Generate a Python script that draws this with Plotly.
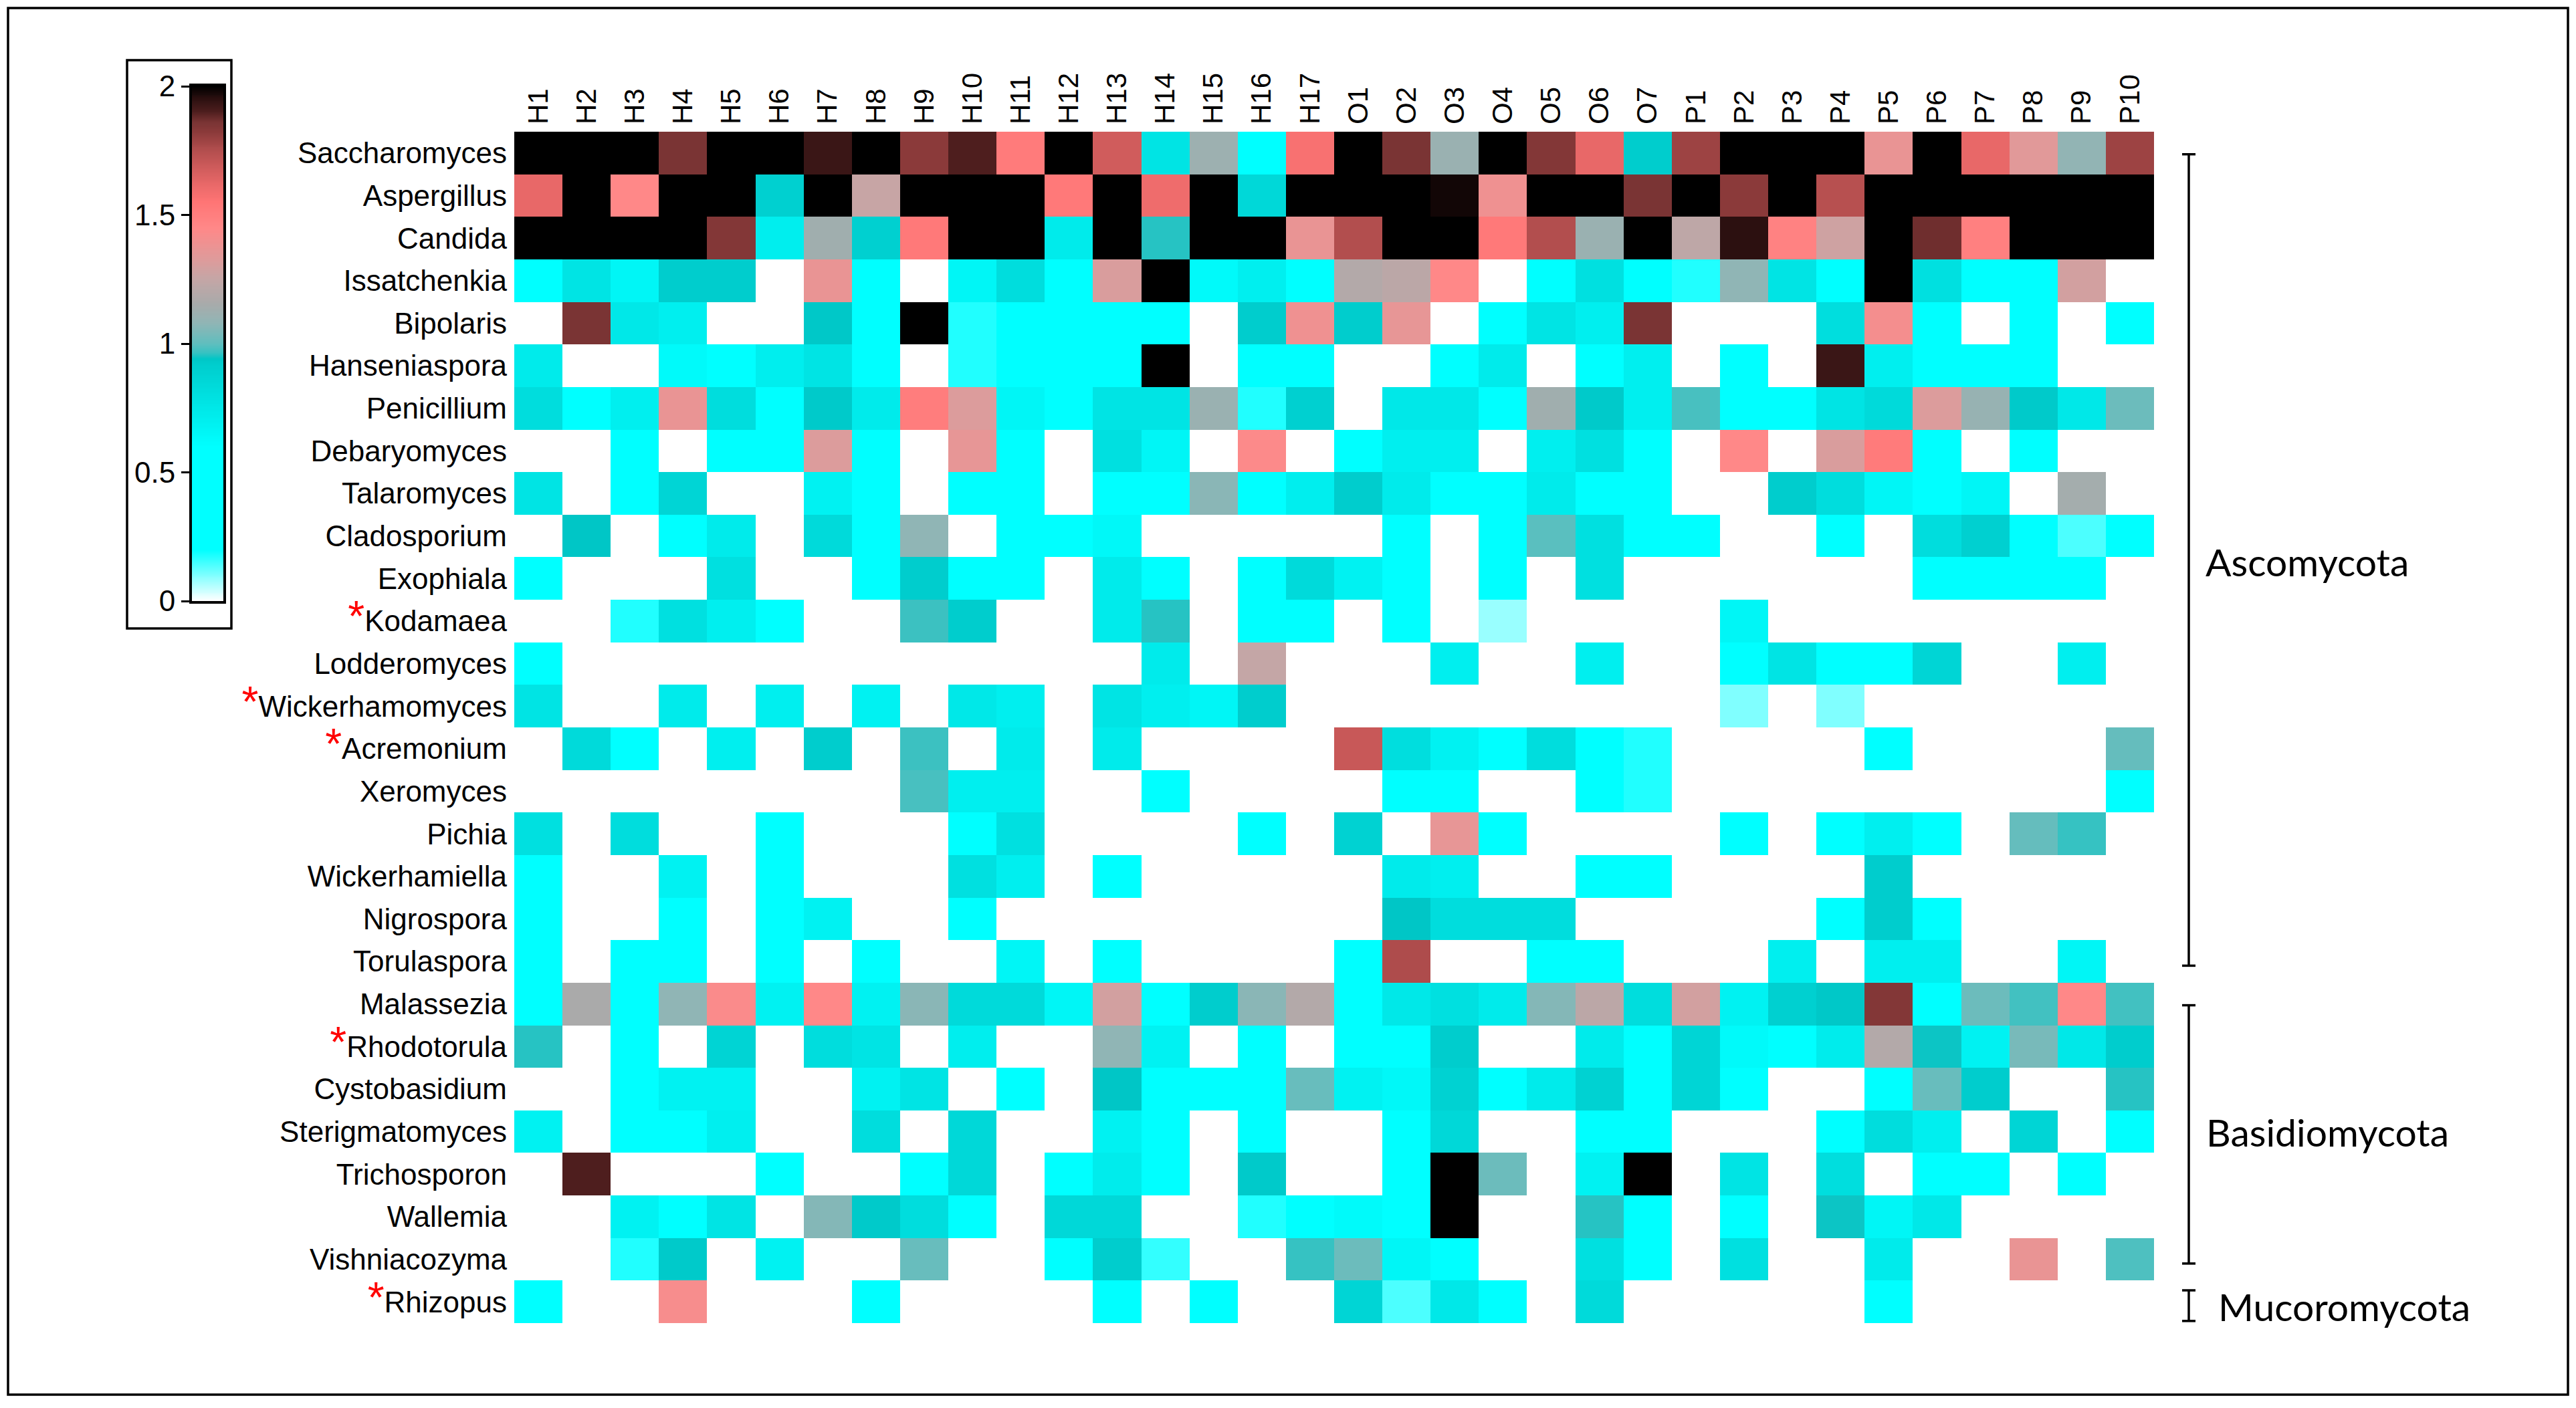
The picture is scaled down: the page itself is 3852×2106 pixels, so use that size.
import numpy as np
import plotly.graph_objects as go

# page is 3852x2106; the html body adds an 8px margin, so the figure is a bit smaller
PAGE_W, PAGE_H, BODY = 3852, 2106, 8
W, H = PAGE_W - 2 * BODY, PAGE_H - 2 * BODY
FONT = "Liberation Sans, Arial, sans-serif"
GROUP_FONT = "Lato, Open Sans, sans-serif"
N = None  # genus not detected in that sample

samples = ["H1", "H2", "H3", "H4", "H5", "H6", "H7", "H8", "H9", "H10", "H11", "H12",
           "H13", "H14", "H15", "H16", "H17", "O1", "O2", "O3", "O4", "O5", "O6", "O7",
           "P1", "P2", "P3", "P4", "P5", "P6", "P7", "P8", "P9", "P10"]

genera = ["Saccharomyces", "Aspergillus", "Candida", "Issatchenkia", "Bipolaris",
          "Hanseniaspora", "Penicillium", "Debaryomyces", "Talaromyces", "Cladosporium",
          "Exophiala", "Kodamaea", "Lodderomyces", "Wickerhamomyces", "Acremonium",
          "Xeromyces", "Pichia", "Wickerhamiella", "Nigrospora", "Torulaspora",
          "Malassezia", "Rhodotorula", "Cystobasidium", "Sterigmatomyces", "Trichosporon",
          "Wallemia", "Vishniacozyma", "Rhizopus"]
starred = ["Kodamaea", "Wickerhamomyces", "Acremonium", "Rhodotorula", "Rhizopus"]

# abundance score per genus, columns follow `samples`
saccharomyces = [2, 2, 2, 1.86, 2, 2, 1.93, 2, 1.82, 1.9, 1.52, 2, 1.68, 0.77, 1.12, 0.4, 1.57,
                 2, 1.86, 1.11, 2, 1.84, 1.62, 0.92, 1.79, 2, 2, 2, 1.37, 2, 1.62, 1.34, 1.085, 1.79]
aspergillus = [1.62, 2, 1.45, 2, 2, 0.9, 2, 1.26, 2, 2, 2, 1.53, 2, 1.6, 2, 0.85, 2,
               2, 2, 1.98, 1.39, 2, 2, 1.86, 2, 1.82, 2, 1.74, 2, 2, 2, 2, 2, 2]
candida = [2, 2, 2, 2, 1.84, 0.71, 1.13, 0.9, 1.53, 2, 2, 0.73, 2, 0.956, 2, 2, 1.37,
           1.75, 2, 2, 1.53, 1.75, 1.11, 2, 1.23, 1.95, 1.48, 1.28, 2, 1.87, 1.49, 2, 2, 2]
issatchenkia = [0.4, 0.77, 0.66, 0.92, 0.92, N, 1.37, 0.4, N, 0.66, 0.82, 0.4, 1.31, 2, 0.63, 0.7, 0.4,
                1.19, 1.22, 1.45, N, 0.4, 0.8, 0.4, 0.175, 1.08, 0.77, 0.4, 2, 0.8, 0.4, 0.4, 1.29, N]
bipolaris = [N, 1.86, 0.75, 0.7, N, N, 0.935, 0.4, 2, 0.175, 0.4, 0.4, 0.4, 0.4, N, 0.92, 1.39,
             0.92, 1.36, N, 0.4, 0.77, 0.7, 1.86, N, N, N, 0.81, 1.41, 0.4, N, 0.4, N, 0.4]
hanseniaspora = [0.73, N, N, 0.63, 0.4, 0.71, 0.77, 0.4, N, 0.175, 0.4, 0.4, 0.4, 2, N, 0.4, 0.4,
                 N, N, 0.4, 0.73, N, 0.4, 0.7, N, 0.4, N, 1.93, 0.7, 0.4, 0.4, 0.4, N, N]
penicillium = [0.82, 0.4, 0.7, 1.37, 0.82, 0.4, 0.93, 0.73, 1.51, 1.32, 0.66, 0.4, 0.77, 0.77, 1.11, 0.175, 0.9,
               N, 0.75, 0.75, 0.4, 1.13, 0.93, 0.7, 0.98, 0.4, 0.4, 0.77, 0.84, 1.32, 1.1, 0.93, 0.75, 1.02]
debaryomyces = [N, N, 0.4, N, 0.4, 0.4, 1.32, 0.4, N, 1.36, 0.4, N, 0.8, 0.66, N, 1.44, N,
                0.4, 0.7, 0.7, N, 0.7, 0.8, 0.4, N, 1.45, N, 1.31, 1.52, 0.4, N, 0.4, N, N]
talaromyces = [0.77, N, 0.4, 0.87, N, N, 0.68, 0.4, N, 0.4, 0.4, N, 0.4, 0.4, 1.07, 0.4, 0.71,
               0.92, 0.73, 0.4, 0.4, 0.73, 0.4, 0.4, N, N, 0.92, 0.82, 0.66, 0.4, 0.66, N, 1.14, N]
cladosporium = [N, 0.94, N, 0.4, 0.73, N, 0.84, 0.4, 1.08, N, 0.4, 0.4, 0.645, N, N, N, N,
                N, 0.4, N, 0.4, 0.995, 0.8, 0.4, 0.4, N, N, 0.4, N, 0.82, 0.9, 0.4, 0.14, 0.4]
exophiala = [0.4, N, N, N, 0.8, N, N, 0.4, 0.92, 0.4, 0.4, N, 0.73, 0.4, N, 0.4, 0.84,
             0.68, 0.4, N, 0.4, N, 0.8, N, N, N, N, N, N, 0.4, 0.4, 0.4, 0.4, N]
kodamaea = [N, N, 0.175, 0.8, 0.7, 0.4, N, N, 0.97, 0.92, N, N, 0.73, 0.956, N, 0.4, 0.4,
            N, 0.4, N, 0.08, N, N, N, N, 0.66, N, N, N, N, N, N, N, N]
lodderomyces = [0.4, N, N, N, N, N, N, N, N, N, N, N, N, 0.73, N, 1.25, N,
                N, N, 0.7, N, N, 0.7, N, N, 0.4, 0.77, 0.4, 0.4, 0.87, N, N, 0.7, N]
wickerhamomyces = [0.77, N, N, 0.73, N, 0.7, N, 0.68, N, 0.75, 0.7, N, 0.77, 0.7, 0.66, 0.92, N,
                   N, N, N, N, N, N, N, N, 0.1, N, 0.1, N, N, N, N, N, N]
acremonium = [N, 0.84, 0.4, N, 0.7, N, 0.92, N, 0.97, N, 0.73, N, 0.73, N, N, N, N,
              1.7, 0.81, 0.68, 0.4, 0.82, 0.4, 0.175, N, N, N, N, 0.4, N, N, N, N, 1.008]
xeromyces = [N, N, N, N, N, N, N, N, 0.98, 0.7, 0.7, N, N, 0.4, N, N, N,
             N, 0.4, 0.4, N, N, 0.4, 0.175, N, N, N, N, N, N, N, N, N, 0.4]
pichia = [0.8, N, 0.82, N, N, 0.4, N, N, N, 0.4, 0.8, N, N, N, N, 0.4, N,
          0.89, N, 1.36, 0.4, N, N, N, N, 0.4, N, 0.4, 0.7, 0.4, N, 1.008, 0.965, N]
wickerhamiella = [0.4, N, N, 0.68, N, 0.4, N, N, N, 0.8, 0.7, N, 0.4, N, N, N, N,
                  N, 0.73, 0.7, N, N, 0.4, 0.4, N, N, N, N, 0.92, N, N, N, N, N]
nigrospora = [0.4, N, N, 0.4, N, 0.4, 0.68, N, N, 0.4, N, N, N, N, N, N, N,
              N, 0.94, 0.82, 0.82, 0.82, N, N, N, N, N, 0.4, 0.92, 0.4, N, N, N, N]
torulaspora = [0.4, N, 0.4, 0.4, N, 0.4, N, 0.4, N, N, 0.66, N, 0.4, N, N, N, N,
               0.4, 1.76, N, N, 0.4, 0.4, N, N, N, 0.7, N, 0.7, 0.7, N, N, 0.66, N]
malassezia = [0.4, 1.16, 0.4, 1.08, 1.43, 0.68, 1.45, 0.68, 1.07, 0.84, 0.84, 0.66, 1.29, 0.4, 0.92, 1.07, 1.19,
              0.4, 0.75, 0.8, 0.73, 1.06, 1.22, 0.82, 1.29, 0.68, 0.9, 0.935, 1.84, 0.4, 1.02, 0.975, 1.45, 0.975]
rhodotorula = [0.956, N, 0.4, N, 0.875, N, 0.82, 0.77, N, 0.71, N, N, 1.08, 0.68, N, 0.4, N,
               0.4, 0.4, 0.92, N, N, 0.73, 0.4, 0.87, 0.63, 0.4, 0.72, 1.19, 0.945, 0.68, 1.04, 0.75, 0.92]
cystobasidium = [N, N, 0.4, 0.68, 0.68, N, N, 0.68, 0.77, N, 0.4, N, 0.94, 0.4, 0.4, 0.4, 1.013,
                 0.68, 0.645, 0.89, 0.4, 0.73, 0.89, 0.4, 0.87, 0.4, N, N, 0.4, 1.013, 0.92, N, N, 0.956]
sterigmatomyces = [0.68, N, 0.4, 0.4, 0.7, N, N, 0.82, N, 0.85, N, N, 0.68, 0.4, N, 0.4, N,
                   N, 0.4, 0.85, N, N, 0.4, 0.4, N, N, N, 0.4, 0.82, 0.7, N, 0.87, N, 0.4]
trichosporon = [N, 1.9, N, N, N, 0.4, N, N, 0.4, 0.85, N, 0.4, 0.72, 0.4, N, 0.93, N,
                N, 0.4, 2, 1.02, N, 0.68, 2, N, 0.77, N, 0.81, N, 0.4, 0.4, N, 0.4, N]
wallemia = [N, N, 0.68, 0.4, 0.77, N, 1.06, 0.93, 0.82, 0.4, N, 0.85, 0.85, N, N, 0.175, 0.4,
            0.63, 0.4, 2, N, N, 0.956, 0.4, N, 0.4, N, 0.945, 0.66, 0.75, N, N, N, N]
vishniacozyma = [N, N, 0.175, 0.93, N, 0.68, N, N, 1.013, N, N, 0.4, 0.92, 0.16, N, N, 0.965,
                 1.02, 0.66, 0.4, N, N, 0.8, 0.4, N, 0.8, N, N, 0.73, N, N, 1.37, N, 0.985]
rhizopus = [0.4, N, N, 1.42, N, N, N, 0.4, N, N, N, N, 0.4, N, 0.4, N, N,
            0.87, 0.14, 0.75, 0.4, N, 0.84, N, N, N, N, N, 0.4, N, N, N, N, N]

z = [saccharomyces, aspergillus, candida, issatchenkia, bipolaris, hanseniaspora, penicillium,
     debaryomyces, talaromyces, cladosporium, exophiala, kodamaea, lodderomyces, wickerhamomyces,
     acremonium, xeromyces, pichia, wickerhamiella, nigrospora, torulaspora, malassezia,
     rhodotorula, cystobasidium, sterigmatomyces, trichosporon, wallemia, vishniacozyma, rhizopus]

# phylum groups: (label, first row, last row)
phyla = [("Ascomycota", 0, 19), ("Basidiomycota", 20, 26), ("Mucoromycota", 27, 27)]

# white -> cyan -> teal -> grey -> salmon -> dark red -> black
scale_stops = [(0.0, "#FFFFFF"), (0.2, "#00FFFF"), (0.6, "#00FFFF"), (0.92, "#00CDCD"),
               (0.94, "#00C6C6"), (0.96, "#30C2C2"), (1.0, "#60BEBE"), (1.08, "#90B5B5"),
               (1.16, "#AAAAAA"), (1.25, "#C4A6A6"), (1.32, "#DC9C9C"), (1.45, "#FF8888"),
               (1.55, "#FF7575"), (1.62, "#E86868"), (1.7, "#C85858"), (1.76, "#AE4C4C"),
               (1.82, "#8B3A3A"), (1.86, "#7A3434"), (1.9, "#4E1E1E"), (1.95, "#2C1010"),
               (2.0, "#000000")]
colorscale = [[v / 2.0, c] for v, c in scale_stops]


def px_x(x):
    # page pixel -> paper fraction
    return (x - BODY) / W


def px_y(y):
    return 1 - (y - BODY) / H


row_labels = []
for g in genera:
    if g in starred:
        row_labels.append(f"<span style='color:red;font-size:64px'>*</span>{g}")
    else:
        row_labels.append(g)

fig = go.Figure()
fig.add_trace(go.Heatmap(
    z=z, x=list(range(len(samples))), y=list(range(len(genera))),
    zmin=0, zmax=2, colorscale=colorscale, showscale=False, hoverongaps=False,
    xaxis="x", yaxis="y",
))

# hand-built colour key so the labels can sit on the left of the bar
key_vals = np.linspace(0, 2, 401)
fig.add_trace(go.Heatmap(
    z=[[v] for v in key_vals], x=[0], y=key_vals, zmin=0, zmax=2,
    colorscale=colorscale, showscale=False, hoverinfo="skip",
    xaxis="x2", yaxis="y2",
))

shapes = [
    dict(type="rect", xref="paper", yref="paper", x0=px_x(12), x1=px_x(3840),
         y0=px_y(12), y1=px_y(2086), line=dict(color="black", width=3.5)),
    dict(type="rect", xref="paper", yref="paper", x0=px_x(190), x1=px_x(346),
         y0=px_y(90), y1=px_y(940), line=dict(color="black", width=3.5)),
]
annotations = []
BX = 3273
label_y = {"Ascomycota": 9.6, "Basidiomycota": 23.0, "Mucoromycota": 27.1}
label_x = {"Ascomycota": 3296, "Basidiomycota": 3297, "Mucoromycota": 3315}
for name, r0, r1 in phyla:
    if r0 == r1:
        y0, y1 = r0 - 0.27, r1 + 0.45
    else:
        y0, y1 = r0 + 0.03, r1 + 0.1
    shapes.append(dict(type="line", xref="paper", yref="y", x0=px_x(BX), x1=px_x(BX),
                       y0=y0, y1=y1, line=dict(color="black", width=3.5)))
    for yy in (y0, y1):
        shapes.append(dict(type="line", xref="paper", yref="y", x0=px_x(BX - 10),
                           x1=px_x(BX + 10), y0=yy, y1=yy, line=dict(color="black", width=3.5)))
    annotations.append(dict(text=name, xref="paper", yref="y", x=px_x(label_x[name]),
                            y=label_y[name], xanchor="left", yanchor="middle", showarrow=False,
                            font=dict(family=GROUP_FONT, size=57, color="black")))

fig.update_layout(
    width=W, height=H,
    margin=dict(l=0, r=0, t=0, b=0, pad=0, autoexpand=False),
    paper_bgcolor="white", plot_bgcolor="white",
    font=dict(family=FONT, color="black"),
    showlegend=False,
    shapes=shapes, annotations=annotations,
    xaxis=dict(domain=[px_x(769), px_x(3221)], range=[-0.5, len(samples) - 0.5],
               side="top", tickmode="array", tickvals=list(range(len(samples))),
               ticktext=samples, tickangle=-90, ticks="", ticklabelstandoff=10,
               showgrid=False, zeroline=False, showline=False, automargin=False,
               tickfont=dict(size=42, family=FONT, color="black"), anchor="y"),
    yaxis=dict(domain=[px_y(1979), px_y(197)], range=[len(genera) - 0.5, -0.5],
               tickmode="array", tickvals=list(range(len(genera))), ticktext=row_labels,
               ticks="", ticklabelstandoff=10, showgrid=False, zeroline=False, showline=False,
               automargin=False,
               tickfont=dict(size=44, family=FONT, color="black"), anchor="x"),
    xaxis2=dict(domain=[px_x(287), px_x(334)], range=[-0.5, 0.5], anchor="y2",
                showticklabels=False, ticks="", showgrid=False, zeroline=False,
                automargin=False,
                showline=True, mirror=True, linecolor="black", linewidth=4),
    yaxis2=dict(domain=[px_y(899), px_y(129)], range=[0, 2], anchor="x2",
                tickmode="array", tickvals=[0, 0.5, 1, 1.5, 2],
                ticktext=["0", "0.5", "1", "1.5", "2"],
                ticks="outside", ticklen=12, tickwidth=3, tickcolor="black",
                showgrid=False, zeroline=False, showline=True, mirror=True,
                linecolor="black", linewidth=4, automargin=False,
                tickfont=dict(size=44, family=FONT, color="black")),
)

fig.write_html("out.html")
